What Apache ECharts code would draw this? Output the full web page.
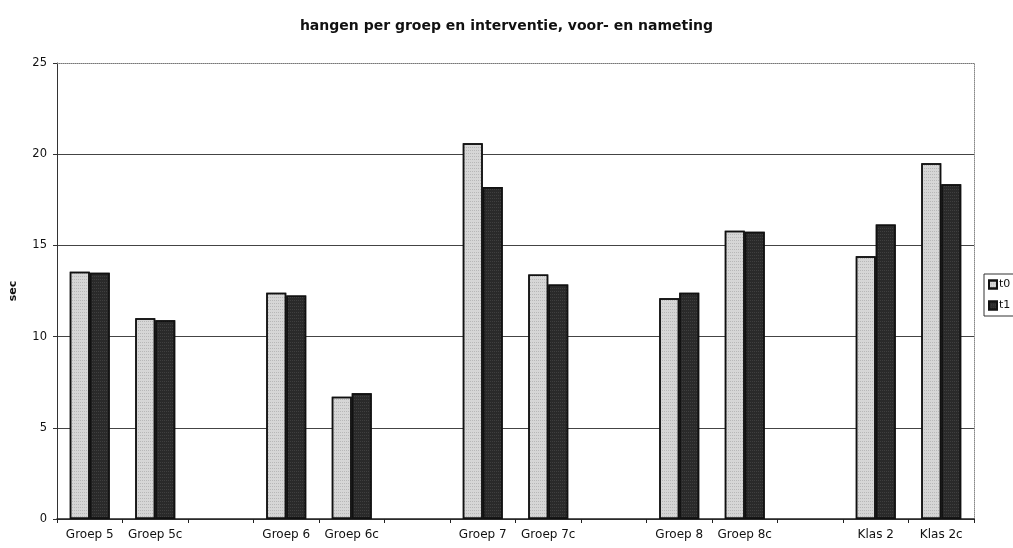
<!DOCTYPE html>
<html>
<head>
<meta charset="utf-8">
<script src="https://cdn.jsdelivr.net/npm/echarts@6/dist/echarts.min.js"></script>
<style>
  html, body { margin: 0; padding: 0; background: #fff; }
  #chart { width: 1013px; height: 548px; }
</style>
</head>
<body>
<div id="chart"></div>
<script>
// Groups with an empty slot between each pair
const categories = ['Groep 5', 'Groep 5c', '', 'Groep 6', 'Groep 6c', '', 'Groep 7', 'Groep 7c', '', 'Groep 8', 'Groep 8c', '', 'Klas 2', 'Klas 2c'];
// Pre-test (t0) and post-test (t1) hanging time in seconds
const t0 = [13.55, 11.0, null, 12.4, 6.7, null, 20.6, 13.4, null, 12.1, 15.8, null, 14.4, 19.5];
const t1 = [13.5, 10.9, null, 12.25, 6.9, null, 18.2, 12.85, null, 12.4, 15.75, null, 16.15, 18.35];
const yTicks = [0, 5, 10, 15, 20, 25];

const font = 'DejaVu Sans, Liberation Sans, Arial, sans-serif';
const chart = echarts.init(document.getElementById('chart'), null, { renderer: 'canvas' });

// fine stipple used on the bar fills
const stipple = (c) => ({ symbol: 'rect', symbolSize: 1, dashArrayX: [1, 1], dashArrayY: [1, 2], rotation: 0, color: c });

chart.setOption({
  animation: false,
  backgroundColor: '#fff',
  title: {
    text: 'hangen per groep en interventie, voor- en nameting',
    left: 'center',
    top: 14,
    textStyle: { fontFamily: font, fontSize: 14, fontWeight: 'bold', color: '#111' }
  },
  legend: {
    data: ['t0', 't1'],
    orient: 'vertical',
    left: 984,
    top: 274,
    itemWidth: 8,
    itemHeight: 8,
    itemGap: 10,
    padding: [5, 6, 5, 4],
    borderColor: '#333',
    borderWidth: 1,
    icon: 'rect',
    textStyle: { fontFamily: font, fontSize: 11, color: '#111', padding: [0, 0, 0, -3] }
  },
  grid: { left: 54, right: 39, top: 63, bottom: 29, containLabel: false },
  xAxis: [{
    type: 'category',
    data: categories,
    axisLine: { lineStyle: { color: '#222', width: 1.5 } },
    axisTick: { show: true, interval: 0, length: 4, lineStyle: { color: '#222' } },
    axisLabel: { interval: 0, margin: 10, fontFamily: font, fontSize: 12, color: '#111' },
    splitLine: { show: false }
  }, {
    type: 'category',
    position: 'top',
    data: categories,
    axisLine: { show: true, onZero: false, lineStyle: { color: '#777', width: 1, type: 'dotted' } },
    axisTick: { show: false },
    axisLabel: { show: false }
  }],
  yAxis: [{
    type: 'value',
    min: yTicks[0],
    max: yTicks[yTicks.length - 1],
    interval: 5,
    name: 'sec',
    nameLocation: 'middle',
    nameRotate: 90,
    nameGap: 38,
    nameTextStyle: { fontFamily: font, fontSize: 11, fontWeight: 'bold', color: '#111' },
    axisLine: { show: true, lineStyle: { color: '#333', width: 1 } },
    axisTick: { show: true, length: 4, lineStyle: { color: '#333' } },
    axisLabel: { margin: 10, fontFamily: font, fontSize: 11.5, color: '#111' },
    splitLine: {
      show: true,
      lineStyle: { color: ['#444', '#444', '#444', '#444', '#444', 'rgba(0,0,0,0)'], width: 1.2 }
    }
  }, {
    type: 'value',
    position: 'right',
    min: yTicks[0],
    max: yTicks[yTicks.length - 1],
    interval: 5,
    axisLine: { show: true, onZero: false, lineStyle: { color: '#888', width: 1, type: 'dotted' } },
    axisTick: { show: false },
    axisLabel: { show: false },
    splitLine: { show: false }
  }],
  series: [{
    name: 't0',
    type: 'bar',
    data: t0,
    barGap: '0%',
    barCategoryGap: '39%',
    itemStyle: { color: '#d6d6d6', borderColor: '#111', borderWidth: 1.5, decal: stipple('rgba(0,0,0,0.14)') }
  }, {
    name: 't1',
    type: 'bar',
    data: t1,
    itemStyle: { color: '#2a2a2a', borderColor: '#111', borderWidth: 1.5, decal: stipple('rgba(255,255,255,0.10)') }
  }]
});
</script>
</body>
</html>
